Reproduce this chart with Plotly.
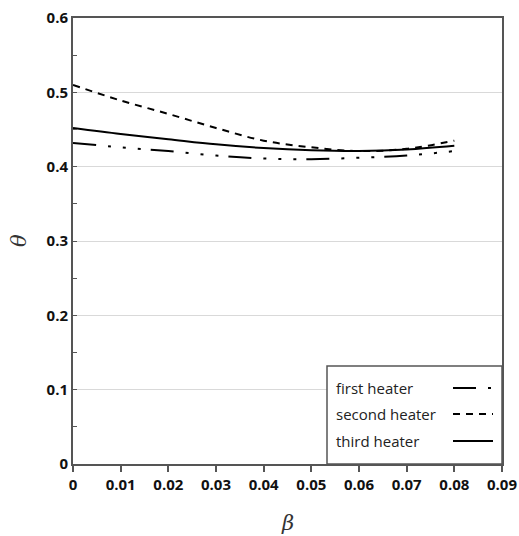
import plotly.graph_objects as go

beta = [0, 0.01, 0.02, 0.03, 0.04, 0.05, 0.06, 0.07, 0.08]
first_heater = [0.432, 0.426, 0.421, 0.415, 0.411, 0.410, 0.412, 0.415, 0.421]
second_heater = [0.510, 0.489, 0.471, 0.452, 0.435, 0.426, 0.421, 0.424, 0.435]
third_heater = [0.452, 0.444, 0.437, 0.430, 0.425, 0.422, 0.421, 0.423, 0.428]
series_names = ["first heater", "second heater", "third heater"]
x_ticks = [0, 0.01, 0.02, 0.03, 0.04, 0.05, 0.06, 0.07, 0.08, 0.09]
x_tick_labels = ["0", "0.01", "0.02", "0.03", "0.04", "0.05", "0.06", "0.07", "0.08", "0.09"]
y_ticks = [0, 0.1, 0.2, 0.3, 0.4, 0.5, 0.6]
y_tick_labels = ["0", "0.1", "0.2", "0.3", "0.4", "0.5", "0.6"]
x_title = "β"
y_title = "θ"

dashes = ["23px,12px,3px,12px,3px,12px,3px,10px", "7px,6px", "solid"]
data = [first_heater, second_heater, third_heater]

fig = go.Figure()
for name, ys, d in zip(series_names, data, dashes):
    fig.add_trace(go.Scatter(x=beta, y=ys, mode="lines", name=name,
                             line=dict(color="black", width=2, dash=d, shape="spline"),
                             showlegend=False, hoverinfo="skip"))

W, H = 519, 536
L, R, T, B = 73, 17, 18, 72
pw, ph = W - L - R, H - T - B

def px(x):
    return (x - L) / pw

def py(y):
    return (T + ph - y) / ph

shapes = [dict(type="rect", xref="paper", yref="paper",
               x0=px(327), x1=px(502), y0=py(366), y1=py(464),
               line=dict(color="#555555", width=1.5), fillcolor="white", layer="above")]
annotations = []
rows = [388, 414, 441]
for name, yy in zip(series_names, rows):
    annotations.append(dict(text=name, xref="paper", yref="paper", x=px(334), y=py(yy),
                            xanchor="left", yanchor="middle", showarrow=False,
                            font=dict(family="Open Sans", size=15, color="#222222")))
for d, yy in zip(dashes, rows):
    shapes.append(dict(type="line", xref="paper", yref="paper",
                       x0=px(453), x1=px(493), y0=py(yy), y1=py(yy),
                       line=dict(color="black", width=2, dash=d), layer="above"))

# axis titles
annotations.append(dict(text=f"<i>{x_title}</i>", xref="paper", yref="paper", x=px(287), y=py(523),
                        xanchor="center", yanchor="middle", showarrow=False,
                        font=dict(family="DejaVu Serif", size=21, color="#333333")))
annotations.append(dict(text=f"<i>{y_title}</i>", xref="paper", yref="paper", x=px(19), y=py(240),
                        xanchor="center", yanchor="middle", showarrow=False, textangle=-90,
                        font=dict(family="DejaVu Serif", size=21, color="#333333")))

fig.update_layout(
    width=W, height=H,
    margin=dict(l=L, r=R, t=T, b=B, autoexpand=False),
    paper_bgcolor="white", plot_bgcolor="white",
    shapes=shapes, annotations=annotations,
    xaxis=dict(range=[0, 0.09], tickvals=x_ticks, ticktext=x_tick_labels, automargin=False,
               ticklabeloverflow="allow",
               showgrid=False, zeroline=False, showline=True, linecolor="#555555", linewidth=2,
               mirror=True, ticks="outside", ticklen=6, tickcolor="#555555", tickwidth=1.5,
               tickfont=dict(family="Open Sans", size=15, color="#111111", weight="bold")),
    yaxis=dict(range=[0, 0.6], tickvals=y_ticks, ticktext=y_tick_labels, automargin=False,
               ticklabeloverflow="allow",
               showgrid=True, gridcolor="#d9d9d9", gridwidth=1, zeroline=False,
               showline=True, linecolor="#555555", linewidth=2, mirror=True,
               ticks="inside", ticklen=4, tickcolor="#555555",
               minor=dict(dtick=0.05, tick0=0, ticks="inside", ticklen=4, tickcolor="#555555", showgrid=False),
               tickfont=dict(family="Open Sans", size=15, color="#111111", weight="bold")),
)

fig.write_html("out.html", config={"displayModeBar": False},
               post_script="document.body.style.margin='0px';document.documentElement.style.overflow='hidden';")
